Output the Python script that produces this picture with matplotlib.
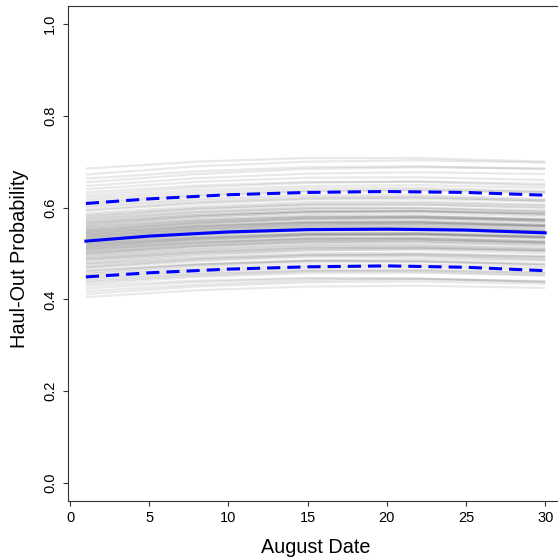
import matplotlib
matplotlib.use("Agg")
import matplotlib.pyplot as plt

plt.rcParams['font.family'] = ['Liberation Sans', 'DejaVu Sans']

days = [1, 8, 15, 22, 30]

# posterior draws (grey), read at the days above
draws = [
    [0.405, 0.420, 0.428, 0.430, 0.425],
    [0.412, 0.428, 0.437, 0.439, 0.434],
    [0.418, 0.432, 0.441, 0.444, 0.440],
    [0.424, 0.438, 0.445, 0.445, 0.438],
    [0.430, 0.441, 0.447, 0.446, 0.438],
    [0.434, 0.449, 0.457, 0.458, 0.452],
    [0.438, 0.452, 0.461, 0.463, 0.458],
    [0.441, 0.455, 0.462, 0.461, 0.453],
    [0.445, 0.458, 0.465, 0.465, 0.458],
    [0.448, 0.462, 0.470, 0.471, 0.465],
    [0.452, 0.466, 0.474, 0.476, 0.470],
    [0.455, 0.471, 0.480, 0.482, 0.477],
    [0.458, 0.475, 0.485, 0.488, 0.484],
    [0.462, 0.476, 0.484, 0.484, 0.477],
    [0.463, 0.477, 0.484, 0.483, 0.474],
    [0.468, 0.483, 0.492, 0.493, 0.487],
    [0.470, 0.486, 0.495, 0.497, 0.492],
    [0.472, 0.488, 0.497, 0.499, 0.493],
    [0.476, 0.490, 0.497, 0.496, 0.488],
    [0.478, 0.493, 0.501, 0.501, 0.494],
    [0.480, 0.497, 0.507, 0.510, 0.505],
    [0.484, 0.499, 0.507, 0.508, 0.500],
    [0.486, 0.502, 0.511, 0.513, 0.508],
    [0.488, 0.503, 0.512, 0.513, 0.507],
    [0.490, 0.505, 0.513, 0.513, 0.505],
    [0.492, 0.508, 0.517, 0.518, 0.512],
    [0.495, 0.510, 0.518, 0.518, 0.510],
    [0.497, 0.513, 0.522, 0.524, 0.519],
    [0.499, 0.516, 0.526, 0.528, 0.523],
    [0.501, 0.516, 0.524, 0.524, 0.516],
    [0.502, 0.518, 0.527, 0.528, 0.521],
    [0.504, 0.520, 0.529, 0.530, 0.524],
    [0.506, 0.522, 0.531, 0.532, 0.526],
    [0.508, 0.524, 0.533, 0.535, 0.530],
    [0.509, 0.524, 0.532, 0.532, 0.524],
    [0.511, 0.526, 0.534, 0.534, 0.526],
    [0.512, 0.529, 0.539, 0.541, 0.536],
    [0.514, 0.530, 0.539, 0.540, 0.534],
    [0.515, 0.531, 0.540, 0.541, 0.534],
    [0.517, 0.533, 0.542, 0.544, 0.539],
    [0.518, 0.534, 0.543, 0.544, 0.538],
    [0.520, 0.535, 0.543, 0.543, 0.535],
    [0.521, 0.536, 0.544, 0.544, 0.536],
    [0.523, 0.539, 0.548, 0.549, 0.543],
    [0.524, 0.541, 0.551, 0.553, 0.548],
    [0.526, 0.542, 0.551, 0.553, 0.548],
    [0.527, 0.543, 0.552, 0.553, 0.545],
    [0.529, 0.544, 0.552, 0.552, 0.544],
    [0.530, 0.546, 0.555, 0.556, 0.549],
    [0.532, 0.548, 0.557, 0.558, 0.552],
    [0.533, 0.548, 0.556, 0.556, 0.548],
    [0.535, 0.551, 0.560, 0.562, 0.557],
    [0.536, 0.553, 0.563, 0.565, 0.560],
    [0.538, 0.553, 0.561, 0.561, 0.553],
    [0.539, 0.555, 0.564, 0.565, 0.558],
    [0.541, 0.557, 0.566, 0.567, 0.561],
    [0.542, 0.558, 0.567, 0.568, 0.562],
    [0.544, 0.560, 0.569, 0.571, 0.566],
    [0.545, 0.560, 0.568, 0.568, 0.560],
    [0.547, 0.562, 0.570, 0.570, 0.562],
    [0.548, 0.565, 0.575, 0.577, 0.572],
    [0.550, 0.566, 0.575, 0.576, 0.570],
    [0.551, 0.567, 0.576, 0.577, 0.570],
    [0.553, 0.569, 0.578, 0.580, 0.575],
    [0.555, 0.571, 0.580, 0.581, 0.575],
    [0.557, 0.572, 0.580, 0.580, 0.572],
    [0.559, 0.574, 0.582, 0.582, 0.574],
    [0.561, 0.577, 0.586, 0.587, 0.581],
    [0.563, 0.580, 0.590, 0.592, 0.587],
    [0.565, 0.581, 0.590, 0.592, 0.587],
    [0.567, 0.583, 0.592, 0.593, 0.586],
    [0.569, 0.584, 0.592, 0.592, 0.584],
    [0.571, 0.587, 0.596, 0.597, 0.591],
    [0.574, 0.590, 0.599, 0.600, 0.594],
    [0.576, 0.591, 0.599, 0.599, 0.591],
    [0.579, 0.595, 0.604, 0.606, 0.601],
    [0.581, 0.598, 0.608, 0.610, 0.605],
    [0.584, 0.599, 0.607, 0.607, 0.599],
    [0.587, 0.603, 0.612, 0.613, 0.606],
    [0.593, 0.609, 0.618, 0.619, 0.613],
    [0.595, 0.611, 0.620, 0.622, 0.616],
    [0.600, 0.615, 0.623, 0.623, 0.615],
    [0.604, 0.619, 0.627, 0.627, 0.619],
    [0.608, 0.625, 0.635, 0.637, 0.632],
    [0.612, 0.628, 0.637, 0.639, 0.634],
    [0.617, 0.633, 0.642, 0.643, 0.636],
    [0.622, 0.638, 0.647, 0.649, 0.643],
    [0.627, 0.644, 0.654, 0.657, 0.652],
    [0.633, 0.648, 0.656, 0.656, 0.648],
    [0.640, 0.656, 0.665, 0.666, 0.660],
    [0.647, 0.664, 0.674, 0.677, 0.673],
    [0.655, 0.673, 0.684, 0.688, 0.685],
    [0.663, 0.679, 0.688, 0.690, 0.684],
    [0.672, 0.690, 0.700, 0.703, 0.698],
    [0.685, 0.700, 0.708, 0.708, 0.700],
]

# posterior mean and interval
sum_days = [1, 5, 10, 15, 20, 25, 30]
mean_p = [0.527, 0.538, 0.547, 0.552, 0.553, 0.551, 0.545]
upper_p = [0.609, 0.619, 0.628, 0.633, 0.635, 0.633, 0.627]
lower_p = [0.449, 0.458, 0.466, 0.471, 0.473, 0.470, 0.4625]

fig = plt.figure(figsize=(5.58, 5.59), dpi=100)
# the original plot is cropped on the right, so the box runs past the edge
ax = fig.add_axes([0.121, 0.103, 0.889, 0.887])

for d in draws:
    ax.plot(days, d, color='black', alpha=0.085, lw=1.6, solid_capstyle='butt')

ax.plot(sum_days, mean_p, color='#0000ff', lw=2.2)
ax.plot(sum_days, upper_p, color='#0000ff', lw=2.2, dashes=(4.3, 2.3))
ax.plot(sum_days, lower_p, color='#0000ff', lw=2.2, dashes=(4.3, 2.3))

ax.set_xlim(1 - 29 * 0.04, 30 + 29 * 0.04)
ax.set_ylim(-0.04, 1.04)
ax.set_xticks([0, 5, 10, 15, 20, 25, 30])
ax.set_yticks([0.0, 0.2, 0.4, 0.6, 0.8, 1.0])
ax.set_yticklabels(['0.0', '0.2', '0.4', '0.6', '0.8', '1.0'])

for s in ax.spines.values():
    s.set_color('#333333')
    s.set_linewidth(0.8)
ax.tick_params(direction='out', length=3.6, width=0.8, color='#333333',
               labelsize=10.5, pad=3)
ax.tick_params(axis='y', labelrotation=90, pad=4)
for lab in ax.get_yticklabels():
    lab.set_va('center')

ax.set_xlabel('August Date', fontsize=14.3)
ax.xaxis.label.set_va('baseline')
ax.xaxis.set_label_coords(0.5, -0.104)
ax.set_ylabel('Haul-Out Probability', fontsize=14.3)
ax.yaxis.label.set(va='center', ha='center', rotation_mode='default')
ax.yaxis.set_label_coords(-0.097, 0.49)

plt.savefig('out.png', dpi=100)
